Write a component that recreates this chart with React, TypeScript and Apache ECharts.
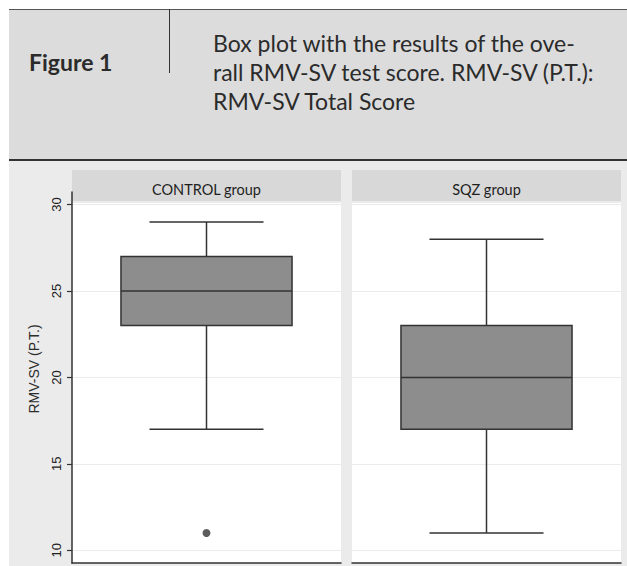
import React, { useEffect, useRef } from "react";
import * as echarts from "echarts";

// ---- data ----
const groups = ["CONTROL group", "SQZ group"];
// [min, Q1, median, Q3, max]
const controlBox = [17, 23, 25, 27, 29];
const sqzBox = [11, 17, 20, 23, 28];
const controlOutliers = [11];
const sqzOutliers: number[] = [];
const yTicks = [10, 15, 20, 25, 30];
const yAxisTitle = "RMV-SV (P.T.)";
const figureLabel = "Figure 1";
const captionLines = [
  "Box plot with the results of the ove-",
  "rall RMV-SV test score. RMV-SV (P.T.):",
  "RMV-SV Total Score",
];

const LINE = "#333333";
const BOX_FILL = "#8d8d8d";
const GRID_LINE = "#ebebeb";

const renderBox = (_params: any, api: any) => {
  const x = api.value(0);
  const vMin = api.value(1);
  const q1 = api.value(2);
  const med = api.value(3);
  const q3 = api.value(4);
  const vMax = api.value(5);
  const band = api.size([1, 0])[0];
  const boxW = band * 0.636;
  const capW = band * 0.424;
  const pMin = api.coord([x, vMin]);
  const pQ1 = api.coord([x, q1]);
  const pMed = api.coord([x, med]);
  const pQ3 = api.coord([x, q3]);
  const pMax = api.coord([x, vMax]);
  const cx = pMin[0];
  const ls = { stroke: LINE, lineWidth: 1.5, fill: null };
  return {
    type: "group",
    children: [
      { type: "line", shape: { x1: cx, y1: pMax[1], x2: cx, y2: pQ3[1] }, style: ls },
      { type: "line", shape: { x1: cx, y1: pQ1[1], x2: cx, y2: pMin[1] }, style: ls },
      { type: "line", shape: { x1: cx - capW / 2, y1: pMax[1], x2: cx + capW / 2, y2: pMax[1] }, style: ls },
      { type: "line", shape: { x1: cx - capW / 2, y1: pMin[1], x2: cx + capW / 2, y2: pMin[1] }, style: ls },
      {
        type: "rect",
        shape: { x: cx - boxW / 2, y: pQ3[1], width: boxW, height: pQ1[1] - pQ3[1] },
        style: { fill: BOX_FILL, stroke: LINE, lineWidth: 1.5 },
      },
      { type: "line", shape: { x1: cx - boxW / 2, y1: pMed[1], x2: cx + boxW / 2, y2: pMed[1] }, style: ls },
    ],
  };
};

export default function App() {
  const ref = useRef<HTMLDivElement>(null);

  useEffect(() => {
    if (!ref.current) return;
    const chart = echarts.init(ref.current, undefined, { renderer: "svg" });

    const panelLefts = [72, 352];
    const panelW = 269;
    const gridTop = 192;
    const gridH = 371;

    const yMin = 9.26;
    const yMax = 30.73;

    const grids = panelLefts.map((l) => ({ left: l, top: gridTop, width: panelW, height: gridH, containLabel: false }));

    const xAxes = groups.map((g, i) => ({
      type: "category",
      gridIndex: i,
      data: [g],
      boundaryGap: true,
      axisLine: { show: true, lineStyle: { color: LINE, width: 1.5 } },
      axisTick: { show: false },
      axisLabel: { show: false },
      splitLine: { show: false },
    }));

    const yAxes = groups.map((_g, i) => ({
      type: "value",
      gridIndex: i,
      min: yMin,
      max: yMax,
      axisLine: { show: i === 0, lineStyle: { color: LINE, width: 1.5 } },
      axisTick: { show: i === 0, length: 5, lineStyle: { color: LINE, width: 1.2 }, customValues: yTicks },
      axisLabel: {
        show: i === 0,
        customValues: yTicks,
        rotate: 90,
        margin: 9,
        color: "#222",
        fontSize: 13,
        fontFamily: "Liberation Sans",
      },
      splitLine: { show: true, lineStyle: { color: GRID_LINE, width: 1.2 } },
    }));

    const boxes = [controlBox, sqzBox];
    const outliers = [controlOutliers, sqzOutliers];

    const series: any[] = [];
    boxes.forEach((b, i) => {
      series.push({
        type: "custom",
        xAxisIndex: i,
        yAxisIndex: i,
        renderItem: renderBox,
        encode: { x: 0, y: [1, 2, 3, 4, 5] },
        data: [[0, ...b]],
        z: 3,
      });
      series.push({
        type: "scatter",
        xAxisIndex: i,
        yAxisIndex: i,
        symbol: "circle",
        symbolSize: 8,
        itemStyle: { color: LINE },
        data: outliers[i].map((v) => [0, v]),
        z: 4,
      });
    });

    const headFont = "Lato";
    const graphic: any[] = [
      // header band
      { type: "rect", z: -5, shape: { x: 9, y: 9, width: 618, height: 151 }, style: { fill: "#dcdcdc" } },
      { type: "line", z: -4, shape: { x1: 9, y1: 9.5, x2: 627, y2: 9.5 }, style: { stroke: "#555", lineWidth: 1 } },
      { type: "line", z: -4, shape: { x1: 9, y1: 160, x2: 627, y2: 160 }, style: { stroke: "#333", lineWidth: 2 } },
      { type: "line", z: -4, shape: { x1: 169.5, y1: 9, x2: 169.5, y2: 73 }, style: { stroke: "#333", lineWidth: 1 } },
      {
        type: "text",
        z: -4,
        x: 29,
        y: 62,
        style: { text: figureLabel, fill: "#2b2b2b", font: `bold 23px ${headFont}`, verticalAlign: "middle", align: "left" },
      },
      ...captionLines.map((t, k) => ({
        type: "text",
        z: -4,
        x: 213,
        y: 43 + k * 29,
        style: { text: t, fill: "#2b2b2b", font: `23px ${headFont}`, verticalAlign: "middle", align: "left" },
      })),
      // chart background
      { type: "rect", z: -5, shape: { x: 9, y: 161, width: 618, height: 405 }, style: { fill: "#ebebeb" } },
      // panels
      ...panelLefts.map((l) => ({
        type: "rect",
        z: -4,
        shape: { x: l, y: 170, width: panelW, height: 31 },
        style: { fill: "#d8d8d8" },
      })),
      ...panelLefts.map((l) => ({
        type: "rect",
        z: -4,
        shape: { x: l, y: 203, width: panelW, height: 360 },
        style: { fill: "#ffffff" },
      })),
      ...groups.map((g, i) => ({
        type: "text",
        z: -3,
        x: panelLefts[i] + panelW / 2,
        y: 189,
        style: { text: g, fill: "#1e1e1e", font: `14.5px ${headFont}`, verticalAlign: "middle", align: "center" },
      })),
      {
        type: "text",
        z: -3,
        x: 34,
        y: 369,
        rotation: Math.PI / 2,
        style: { text: yAxisTitle, fill: "#2b2b2b", font: "14px Liberation Sans", verticalAlign: "middle", align: "center" },
      },
    ];

    chart.setOption({
      animation: false,
      backgroundColor: "#ffffff",
      grid: grids,
      xAxis: xAxes,
      yAxis: yAxes,
      series,
      graphic,
    });

    return () => chart.dispose();
  }, []);

  return (
    <div
      ref={ref}
      style={{ position: "absolute", left: 0, top: 0, width: 627, height: 566 }}
    />
  );
}
